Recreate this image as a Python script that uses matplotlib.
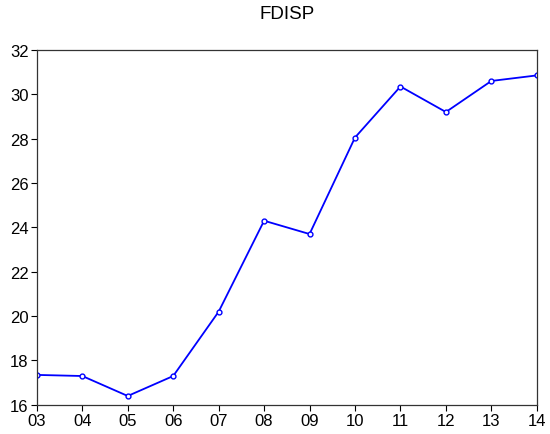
import matplotlib
matplotlib.use("Agg")
import matplotlib.pyplot as plt

years = ["03", "04", "05", "06", "07", "08", "09", "10", "11", "12", "13", "14"]
fdisp = [17.35, 17.3, 16.4, 17.3, 20.2, 24.3, 23.7, 28.05, 30.35, 29.2, 30.6, 30.85]

plt.rcParams['font.family'] = ['Liberation Sans', 'DejaVu Sans']

fig = plt.figure(figsize=(5.5, 4.35), dpi=100)
ax = fig.add_axes([0.067, 0.067, 0.909, 0.816])

x = list(range(len(years)))
ax.plot(x, fdisp, color="#0000ff", linewidth=1.3, marker="o", markersize=3.5,
        markerfacecolor="white", markeredgecolor="#0000ff", markeredgewidth=1)

ax.set_xlim(0, len(years) - 1)
ax.set_ylim(16, 32)
ax.set_xticks(x)
ax.set_xticklabels(years)
ax.set_yticks(range(16, 33, 2))
ax.tick_params(axis="both", direction="out", length=4, width=0.8, labelsize=12, pad=2)
ax.tick_params(top=False, right=False)
for s in ax.spines.values():
    s.set_linewidth(0.9)
    s.set_color("#333333")

ax.set_title("FDISP", fontsize=13.5, pad=23)

fig.savefig("out.png", dpi=100)
